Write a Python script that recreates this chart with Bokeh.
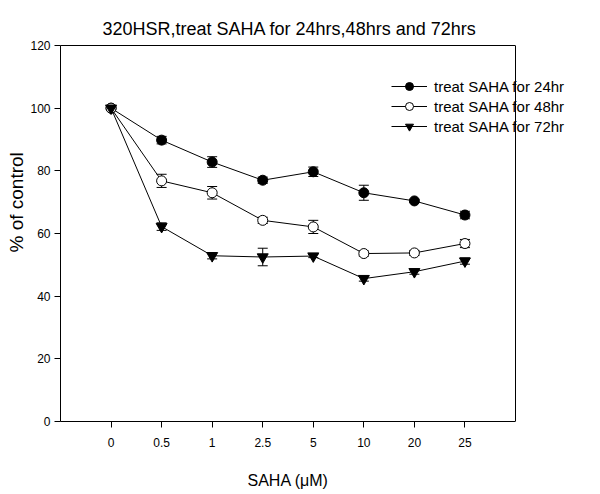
from bokeh.plotting import figure
from bokeh.models import (ColumnDataSource, Whisker, FixedTicker, Legend, LegendItem, Range1d,
                          TeeHead, LinearAxis, Span, Title)
from bokeh.embed import file_html
from bokeh.resources import INLINE

conc_labels = ["0", "0.5", "1", "2.5", "5", "10", "20", "25"]
y24 = [100, 89.8, 82.8, 77.0, 79.7, 73.0, 70.4, 65.9]
e24 = [0.6, 1.2, 1.7, 1.0, 1.5, 2.4, 0.5, 1.2]
y48 = [100, 76.8, 73.0, 64.2, 62.1, 53.6, 53.8, 56.8]
e48 = [0.5, 2.1, 2.0, 1.0, 2.1, 0.8, 0.8, 1.3]
y72 = [100, 62.2, 52.9, 52.5, 52.8, 45.6, 47.8, 51.2]
e72 = [0.5, 1.2, 1.0, 2.8, 0.5, 0.8, 0.8, 1.0]
series_names = ["treat SAHA for 24hr", "treat SAHA for 48hr", "treat SAHA for 72hr"]
y_ticks = [0, 20, 40, 60, 80, 100, 120]

FONT = "Liberation Sans"
n = len(conc_labels)
xs = list(range(n))

# layout (pixels)
W, H = 592, 494
LEFT, TOP, BOTTOM = 60, 45, 73
AXIS_W = 455                      # width of the boxed axes area
FRAME_W = 520                     # drawing frame extends right so the legend is not clipped
x_lo, x_hi = -1, n                # boxed axis span in data units
x_end = x_lo + FRAME_W * (x_hi - x_lo) / AXIS_W

p = figure(width=W, height=H, output_backend="svg", toolbar_location=None,
           x_range=Range1d(x_lo, x_end), y_range=Range1d(0, 120),
           min_border_left=LEFT, min_border_right=W - LEFT - FRAME_W,
           min_border_top=TOP, min_border_bottom=BOTTOM,
           title="320HSR,treat SAHA for 24hrs,48hrs and 72hrs")
p.title.align = "left"
p.title.vertical_align = "top"
p.title.offset = 42
p.title.text_font = FONT
p.title.text_font_size = "18px"
p.title.text_font_style = "normal"
p.title.text_color = "black"
p.outline_line_color = None
p.xgrid.visible = False
p.ygrid.visible = False

p.xaxis.ticker = FixedTicker(ticks=xs)
p.xaxis.major_label_overrides = {i: l for i, l in enumerate(conc_labels)}
p.xaxis.bounds = (x_lo, x_hi)
p.yaxis.ticker = FixedTicker(ticks=y_ticks)
for ax in (p.xaxis, p.yaxis):
    ax.major_tick_out = 6
    ax.major_tick_in = 0
    ax.minor_tick_line_color = None
    ax.axis_line_color = "black"
    ax.major_tick_line_color = "black"
    ax.major_label_text_font = FONT
    ax.major_label_text_font_size = "12px"
    ax.major_label_text_color = "black"
p.xaxis.major_label_standoff = 10
p.yaxis.major_label_standoff = 4
# spacer between tick labels and the x title
p.xaxis.axis_label = " "
p.xaxis.axis_label_text_font_size = "1px"
p.xaxis.axis_label_standoff = 15

# top border of the box
top_ax = LinearAxis(ticker=FixedTicker(ticks=[]), bounds=(x_lo, x_hi), major_tick_out=0,
                    major_tick_in=0, minor_tick_out=0, minor_tick_in=0, major_label_standoff=0,
                    axis_label_standoff=0, axis_line_color="black")
p.add_layout(top_ax, "above")
# right border of the box
p.add_layout(Span(location=x_hi, dimension="height", line_color="black", line_width=1))

xlab = Title(text="SAHA  (\u03bcM)", align="left", offset=187, standoff=2,
             text_font=FONT, text_font_size="16px", text_font_style="normal", text_color="black")
p.add_layout(xlab, "below")
ylab = Title(text="% of control", align="left", offset=169, standoff=2,
             text_font=FONT, text_font_size="19px", text_font_style="normal", text_color="black")
p.add_layout(ylab, "left")

items = []
specs = [(y24, e24, "circle", "black", 10), (y48, e48, "circle", "white", 10),
         (y72, e72, "inverted_triangle", "black", 11)]
for name, (ys, es, marker, fill, size) in zip(series_names, specs):
    src = ColumnDataSource(dict(x=xs, y=ys,
                                lo=[a - b for a, b in zip(ys, es)],
                                hi=[a + b for a, b in zip(ys, es)]))
    w = Whisker(base="x", lower="lo", upper="hi", source=src, line_color="black", line_width=1,
                upper_head=TeeHead(size=10, line_color="black", line_width=1),
                lower_head=TeeHead(size=10, line_color="black", line_width=1))
    p.add_layout(w)
    ln = p.line("x", "y", source=src, line_color="black", line_width=1)
    sc = p.scatter("x", "y", source=src, marker=marker, size=size, fill_color=fill,
                   line_color="black", line_width=1)
    items.append(LegendItem(label=name, renderers=[ln, sc]))

legend = Legend(items=items, location=(331, 285), padding=0, margin=0, spacing=0,
                glyph_width=36, glyph_height=20, label_height=20, label_standoff=7,
                label_text_font=FONT, label_text_font_size="15px", label_text_color="black",
                border_line_color=None, background_fill_alpha=0)
p.add_layout(legend)

open("out.html", "w").write(file_html(p, INLINE))
